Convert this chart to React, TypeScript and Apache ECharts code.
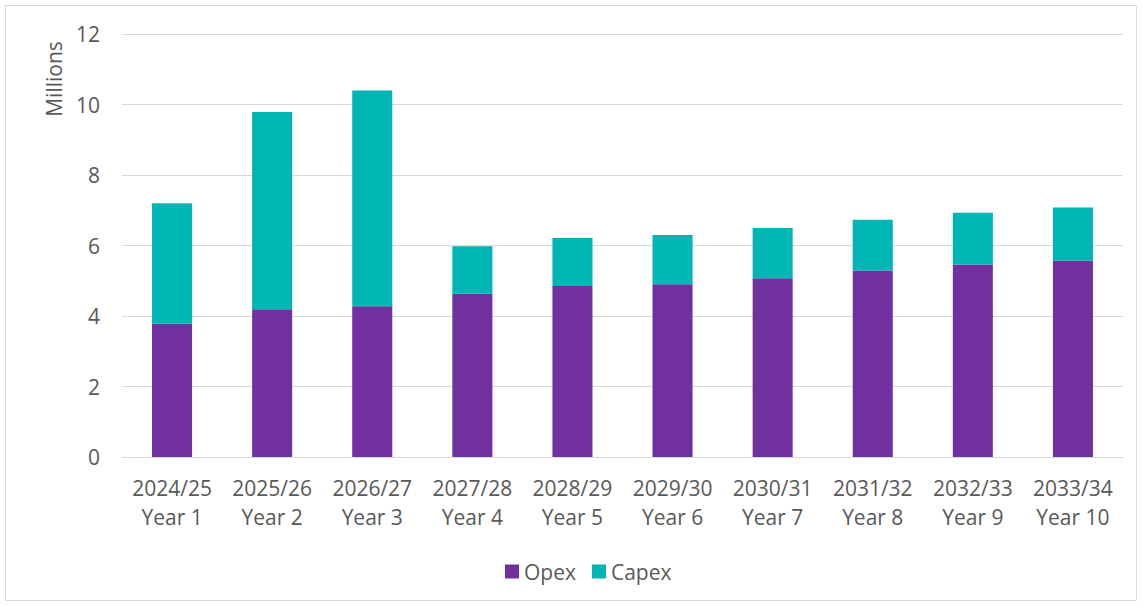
import React, { useEffect, useRef } from "react";
import * as echarts from "echarts";

const periods = ["2024/25", "2025/26", "2026/27", "2027/28", "2028/29", "2029/30", "2030/31", "2031/32", "2032/33", "2033/34"];
const years = ["Year 1", "Year 2", "Year 3", "Year 4", "Year 5", "Year 6", "Year 7", "Year 8", "Year 9", "Year 10"];
const opex = [3.78, 4.19, 4.28, 4.63, 4.85, 4.9, 5.07, 5.29, 5.46, 5.57];
const capex = [3.42, 5.6, 6.12, 1.35, 1.36, 1.4, 1.43, 1.44, 1.47, 1.51];
const yTicks = [0, 2, 4, 6, 8, 10, 12];

const FONT = "'Open Sans', sans-serif";
const TEXT = "#595959";

export default function App() {
  const ref = useRef<HTMLDivElement>(null);
  useEffect(() => {
    if (!ref.current) return;
    const chart = echarts.init(ref.current, undefined, { renderer: "svg" });
    const categories = periods.map((p, i) => p + "\n" + years[i]);
    chart.setOption({
      animation: false,
      textStyle: { fontFamily: FONT },
      graphic: [
        {
          type: "rect",
          shape: { x: 5.5, y: 5.5, width: 1131, height: 595 },
          style: { fill: "none", stroke: "#d9d9d9", lineWidth: 1 },
          silent: true,
        },
        {
          type: "text",
          x: 54,
          y: 79,
          rotation: Math.PI / 2,
          style: {
            text: "Millions",
            fill: TEXT,
            font: `21px ${FONT}`,
            align: "center",
            verticalAlign: "middle",
          },
        },
      ],
      legend: {
        data: ["Opex", "Capex"],
        left: 500,
        top: 556,
        itemWidth: 14,
        itemHeight: 14,
        itemGap: 16,
        icon: "rect",
        textStyle: { color: TEXT, fontSize: 21, fontFamily: FONT },
      },
      grid: { left: 122, right: 19, top: 34, bottom: 149, containLabel: false },
      xAxis: {
        type: "category",
        data: categories,
        axisTick: { show: false },
        axisLine: { lineStyle: { color: "#d9d9d9", width: 1 } },
        axisLabel: {
          color: TEXT,
          fontSize: 21,
          fontFamily: FONT,
          lineHeight: 29,
          margin: 16,
          interval: 0,
        },
      },
      yAxis: {
        type: "value",
        min: 0,
        max: 12,
        interval: 2,
        axisLine: { show: false },
        axisTick: { show: false },
        splitLine: { lineStyle: { color: "#d9d9d9", width: 1 } },
        axisLabel: {
          color: TEXT,
          fontSize: 21,
          fontFamily: FONT,
          margin: 22,
          formatter: (v: number) => (yTicks.includes(v) ? String(v) : ""),
        },
      },
      series: [
        {
          name: "Opex",
          type: "bar",
          stack: "total",
          barWidth: "40%",
          data: opex,
          itemStyle: { color: "#7030A0" },
        },
        {
          name: "Capex",
          type: "bar",
          stack: "total",
          barWidth: "40%",
          data: capex,
          itemStyle: { color: "#00B6B4" },
        },
      ],
    });
    return () => chart.dispose();
  }, []);
  return (
    <div
      ref={ref}
      style={{ position: "fixed", left: 0, top: 0, width: 1142, height: 606, background: "#fff" }}
    />
  );
}
